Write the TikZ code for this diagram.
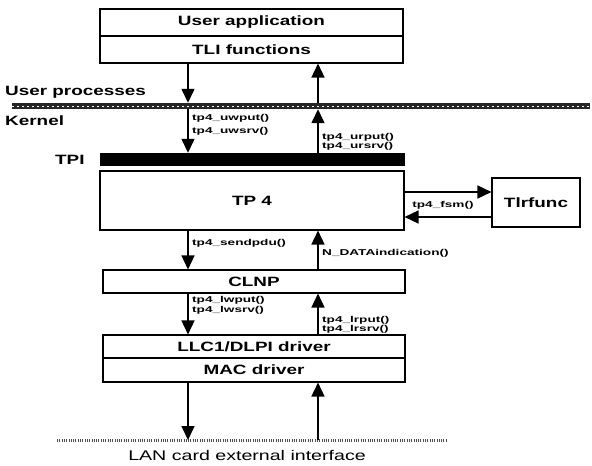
\documentclass[tikz,border=0pt]{standalone}
\usepackage{fontspec}
\setmainfont[FakeStretch=1.4]{Liberation Sans}
\newfontfamily\lblfont[FakeStretch=1.6]{Liberation Sans}
\usetikzlibrary{arrows.meta}

\begin{document}
\begin{tikzpicture}[x=1pt,y=-1pt,
  layer/.style={draw, line width=1.1pt, inner sep=0pt, font=\fontsize{13.5}{16}\selectfont\bfseries},
  side/.style={inner sep=0pt, anchor=west, font=\fontsize{13.5}{16}\selectfont\bfseries},
  lbl/.style={inner sep=0pt, align=left, anchor=west, font=\lblfont\fontsize{8.5}{10}\selectfont\bfseries},
  arr/.style={line width=1.5pt, -{Triangle[width=13pt,length=14pt]}},
  lanline/.style={line width=3pt, black!70, dash pattern=on 1pt off 1.3pt}]
\useasboundingbox (0,0) rectangle (592,466);

\node[layer, minimum width=303pt, minimum height=27pt] (app) at (251.5,22.5) {User application};
\node[layer, minimum width=303pt, minimum height=27pt] (tli) at (251.5,49.5) {TLI functions};

\node[side] (uproc) at (5,92) {User processes};
\node[fill=black!85, inner sep=0pt, minimum width=578pt, minimum height=6pt] (ubar) at (301,106) {};
\draw[white, line width=0.5pt, dash pattern=on 2pt off 3pt] (ubar.west) -- (ubar.east);
\node[side] (kern) at (5,121) {Kernel};

\node[side] (tpil) at (55,160) {TPI};
\node[fill=black, inner sep=0pt, minimum width=305pt, minimum height=13pt] (tpi) at (252.5,159.5) {};

\node[layer, minimum width=304pt, minimum height=59pt] (tp4) at (252,200.5) {TP 4};
\node[layer, minimum width=88pt, minimum height=49pt] (tmr) at (536,202.5) {Tlrfunc};
\node[layer, minimum width=302pt, minimum height=23pt] (clnp) at (254,281.5) {CLNP};
\node[layer, minimum width=302pt, minimum height=23pt] (llc) at (254,346.5) {LLC1/DLPI driver};
\node[layer, minimum width=302pt, minimum height=24pt] (mac) at (254,370) {MAC driver};

\coordinate (dn) at (188,0);
\coordinate (up) at (318,0);
\coordinate (fa) at (0,192);
\coordinate (fb) at (0,217);
\coordinate (lanl) at (57,440);
\coordinate (lanr) at (447,440);

\draw[lanline] (lanl) -- (lanr);
\node[font=\fontsize{14}{16}\selectfont] (lan) at (247,455) {LAN card external interface};

% down and up calls
\draw[arr] (tli.south -| dn) -- (ubar.north -| dn);
\draw[arr] (ubar.north -| up) -- (tli.south -| up);
\draw[arr] (ubar.south -| dn) -- (tpi.north -| dn);
\draw[arr] (tpi.north -| up) -- (ubar.south -| up);
\draw[arr] (tp4.south -| dn) -- (clnp.north -| dn);
\draw[arr] (clnp.north -| up) -- (tp4.south -| up);
\draw[arr] (clnp.south -| dn) -- (llc.north -| dn);
\draw[arr] (llc.north -| up) -- (clnp.south -| up);
\draw[arr] (mac.south -| dn) -- (lanl -| dn);
\draw[arr] (lanl -| up) -- (mac.south -| up);
\draw[arr] (tp4.east |- fa) -- (tmr.west |- fa);
\draw[arr] (tmr.west |- fb) -- (tp4.east |- fb);

\node[lbl] (uw) at (192,125) {tp4\_uwput()\\[3pt]tp4\_uwsrv()};
\node[lbl] (ur) at (322,141.5) {tp4\_urput()\\[-1pt]tp4\_ursrv()};
\node[lbl] (send) at (192,243) {tp4\_sendpdu()};
\node[lbl] (ndata) at (322,253) {N\_DATAindication()};
\node[lbl] (lw) at (192,305) {tp4\_lwput()\\tp4\_lwsrv()};
\node[lbl] (lr) at (322,324.5) {tp4\_lrput()\\[-1pt]tp4\_lrsrv()};
\node[lbl, anchor=center] (fsm) at (443,205) {tp4\_fsm()};
\end{tikzpicture}
\end{document}
